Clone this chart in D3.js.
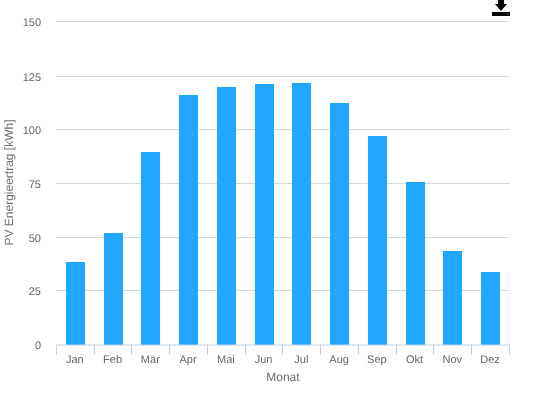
<!DOCTYPE html>
<html>
<head>
<meta charset="utf-8">
<script src="https://d3js.org/d3.v7.min.js"></script>
<style>
    html, body { margin: 0; padding: 0; background: #fff; }
    svg { display: block; will-change: transform; }
    text { font-family: "Liberation Sans", Arial, sans-serif; fill: #666; text-rendering: geometricPrecision; }
</style>
</head>
<body>
<div id="chart"></div>
<script>
const months = ["Jan", "Feb", "Mär", "Apr", "Mai", "Jun", "Jul", "Aug", "Sep", "Okt", "Nov", "Dez"];
const energy = [38.4, 52, 89.7, 116.2, 119.9, 121.2, 121.7, 112.5, 97.1, 75.7, 43.6, 33.8];
const yTicks = [0, 25, 50, 75, 100, 125, 150];

const width = 534;
const height = 393;
const margin = { top: 22.4, right: 24.54, bottom: 48.4, left: 56.46 };

const svg = d3.select("#chart")
    .append("svg")
    .attr("viewBox", [0, 0, width, height])
    .attr("width", width)
    .attr("height", height);

const xScale = d3.scaleBand()
    .domain(months)
    .range([margin.left, width - margin.right]);
const yScale = d3.scaleLinear()
    .domain([0, 150])
    .range([height - margin.bottom, margin.top]);

// snap to a pixel row like the original does, top line sits one row higher
const tickRow = (d) => Math.floor(yScale(d)) + 0.5 - (d === 150 ? 1 : 0);

// grid lines and y labels
const yAxis = svg.append("g")
    .attr("transform", `translate(${Math.floor(margin.left)},0)`)
    .call(d3.axisLeft(yScale)
        .tickValues(yTicks)
        .tickSize(-453.5)
        .tickPadding(15));
yAxis.select(".domain").remove();
yAxis.selectAll(".tick")
    .attr("transform", (d) => `translate(0,${tickRow(d)})`);
yAxis.selectAll(".tick line")
    .attr("stroke", "#d8d8d8");
yAxis.selectAll(".tick text")
    .attr("font-size", 11)
    .attr("dy", "0.42em")
    .style("fill", "#666");
yAxis.selectAll(".tick")
    .filter((d) => d === 0)
    .select("line")
    .remove();

svg.append("g")
    .attr("shape-rendering", "crispEdges")
    .selectAll("rect")
    .data(months)
    .join("rect")
    .attr("x", (d) => xScale(d) + xScale.bandwidth() * 0.25)
    .attr("y", (d, i) => yScale(energy[i]))
    .attr("width", xScale.bandwidth() * 0.5)
    .attr("height", (d, i) => tickRow(0) - yScale(energy[i]))
    .attr("fill", "#21a7ff");

// x axis, ticks sit between the categories
const xAxis = svg.append("g")
    .attr("transform", `translate(0,${tickRow(0)})`)
    .call(d3.axisBottom(xScale).tickSize(0).tickPadding(10.5));
xAxis.select(".domain")
    .attr("stroke", "#c0d0e0");
xAxis.selectAll(".tick text")
    .attr("font-size", 11)
    .attr("dx", -0.5)
    .style("fill", "#666");

svg.append("g")
    .selectAll("line")
    .data(months.concat("end"))
    .join("line")
    .attr("x1", (d, i) => Math.floor(margin.left + i * xScale.step()) + 0.5)
    .attr("x2", (d, i) => Math.floor(margin.left + i * xScale.step()) + 0.5)
    .attr("y1", tickRow(0))
    .attr("y2", tickRow(0) + 10)
    .attr("stroke", "#c0d0e0");

svg.append("text")
    .attr("x", (margin.left + width - margin.right) / 2)
    .attr("y", 381)
    .attr("text-anchor", "middle")
    .attr("font-size", 12)
    .style("fill", "#707070")
    .text("Monat");

svg.append("text")
    .attr("transform", `translate(13,182.5) rotate(270)`)
    .attr("text-anchor", "middle")
    .attr("font-size", 12)
    .style("fill", "#707070")
    .text("PV Energieertrag [kWh]");

// download icon, top is cut off by the page edge
const icon = svg.append("g")
    .attr("transform", "translate(492,0)");
icon.append("path")
    .attr("d", "M6,-2H12V4H15L9,11L3,4H6Z")
    .attr("fill", "#000");
icon.append("rect")
    .attr("x", 0)
    .attr("y", 12)
    .attr("width", 18)
    .attr("height", 4)
    .attr("fill", "#000");
icon.append("rect")
    .attr("x", 15)
    .attr("y", 13.5)
    .attr("width", 1.5)
    .attr("height", 1)
    .attr("fill", "#888");
</script>
</body>
</html>
